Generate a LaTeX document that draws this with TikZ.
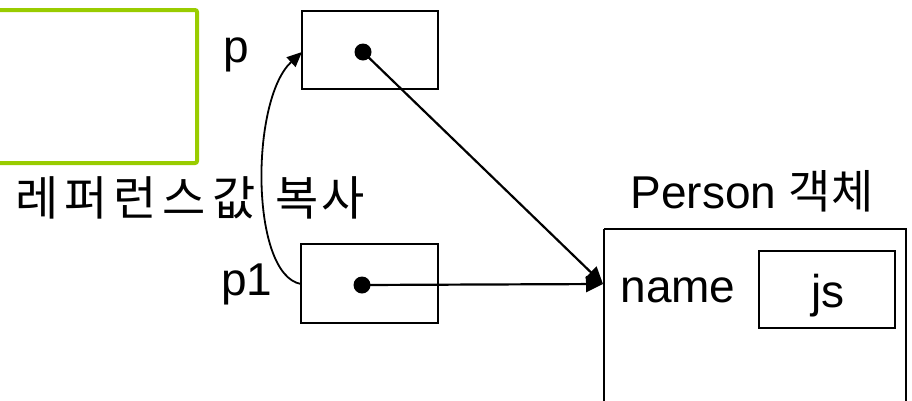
\documentclass[tikz,border=0pt]{standalone}
\usepackage{fontspec}
\setmainfont{Liberation Sans}
\newfontfamily\kr{Noto Sans CJK KR}
\usetikzlibrary{arrows.meta}
\definecolor{lime}{RGB}{153,204,0}
\tikzset{
  x=1pt,y=-1pt,
  txt/.style={inner sep=0pt,font=\fontsize{46}{52}\selectfont,anchor=base},
  cell/.style={draw=black,line width=1.8pt,inner sep=0pt},
  conn/.style={line width=2.2pt,-{Triangle[length=17pt,width=16pt]}},
  dotc/.style={circle,fill=black,inner sep=0pt,minimum size=17pt},
}
\begin{document}
\begin{tikzpicture}
\useasboundingbox (0,0) rectangle (912,400);
\fill[white] (0,0) rectangle (912,400);
% green frame
\draw[lime,line width=4pt,rounded corners=2pt] (-10,10) rectangle (197,163);
% boxes
\draw[cell] (302,11) rectangle (438,89);
\coordinate (pw) at (302,52);
\draw[cell] (301,244) rectangle (438,323);
\coordinate (p1w) at (301,284);
\node[dotc] (pd) at (363,52) {};
\node[dotc] (p1d) at (362,285) {};
% person box
\draw[cell] (604,229) -- (906,229) -- (906,410) (604,410) -- (604,229);
\coordinate (pers) at (603,284);
\draw[cell] (759,251) rectangle (895,328);
% labels
\node[txt] (lp) at (236,62) {p};
\node[txt] (lp1) at (247,295) {p1};
\node[txt,anchor=base west,font=\fontsize{47}{52}\selectfont] (copy) at (15,215) {\kr 레\hspace{6pt}퍼\hspace{6pt}런\hspace{6pt}스\hspace{6pt}값\hspace{20pt}복\hspace{3pt}사};
\node[txt] (lperson) at (752,208) {Person {\kr 객체}};
\node[txt] (lname) at (678,302) {name};
\node[txt] (ljs) at (828,307) {js};
% connectors
\draw[conn] (pd.center) -- (pers);
\draw[conn] (p1d.center) -- (pers);
\draw[conn,line width=1.8pt,-{Triangle[length=15pt,width=13pt]}] (p1w) .. controls (250,275) and (250,100) .. (pw);
\end{tikzpicture}
\end{document}
